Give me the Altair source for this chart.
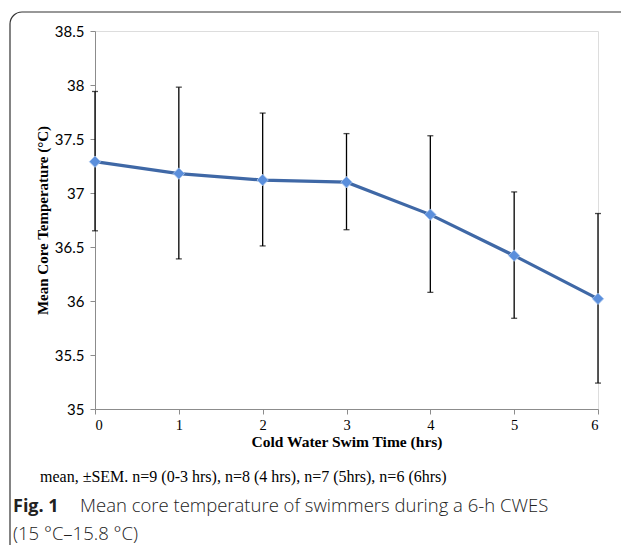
import altair as alt
import pandas as pd

hours = [0, 1, 2, 3, 4, 5, 6]
mean_temp = [37.29, 37.18, 37.12, 37.10, 36.80, 36.42, 36.02]
err_low = [36.65, 36.39, 36.51, 36.66, 36.08, 35.84, 35.24]
err_high = [37.94, 37.98, 37.74, 37.55, 37.53, 37.01, 36.81]
y_ticks = [35, 35.5, 36, 36.5, 37, 37.5, 38, 38.5]

df = pd.DataFrame({"t": hours, "m": mean_temp, "lo": err_low, "hi": err_high})

note_text = ["mean, \u00b1SEM. n=9 (0-3 hrs), n=8 (4 hrs), n=7 (5hrs), n=6 (6hrs)"]
fig_label = ["Fig. 1"]
caption_1 = ["Mean core temperature of swimmers during a 6-h CWES"]
caption_2 = ["(15 \u00b0C\u201315.8 \u00b0C)"]

xs = alt.Scale(domain=[0, 6], nice=False)
ys = alt.Scale(domain=[35, 38.5], nice=False, zero=False)

x_enc = alt.X("t:Q", scale=xs, axis=alt.Axis(
    title="Cold Water Swim Time (hrs)", values=hours, format="d", grid=False,
    domainColor="#8c8c8c", tickColor="#8c8c8c", tickSize=5, labelPadding=4,
    labelFont="Liberation Serif", labelFontSize=14.5, labelColor="#000",
    titleFont="Liberation Serif", titleFontWeight="bold", titleFontSize=15.5,
    titleColor="#000", titleY=32, titleBaseline="middle"))
y_enc = alt.Y("m:Q", scale=ys, axis=alt.Axis(
    title="Mean Core Temperature (\u00b0C)", values=y_ticks, format="~g",
    grid=False, domainColor="#8c8c8c", tickColor="#8c8c8c", tickSize=5, labelPadding=6,
    labelFont="Lato", labelFontSize=15, labelColor="#000",
    titleFont="Liberation Serif", titleFontWeight="bold", titleFontSize=15,
    titleColor="#000", titleX=-53, titleBaseline="middle"))

base = alt.Chart(df)

rules = base.mark_rule(color="#000", strokeWidth=1.3).encode(
    x=alt.X("t:Q", scale=xs), y=alt.Y("lo:Q", scale=ys), y2="hi:Q")
cap_lo = base.mark_tick(color="#000", thickness=1.3, size=6, orient="horizontal").encode(
    x=alt.X("t:Q", scale=xs), y=alt.Y("lo:Q", scale=ys))
cap_hi = base.mark_tick(color="#000", thickness=1.3, size=6, orient="horizontal").encode(
    x=alt.X("t:Q", scale=xs), y=alt.Y("hi:Q", scale=ys))
line = base.mark_line(color="#3f68a6", strokeWidth=3.2).encode(x=x_enc, y=y_enc)
pts = base.mark_point(shape="diamond", filled=True, size=130, color="#5b8fdc",
                      stroke="#a9c6ef", strokeWidth=0.8, opacity=1).encode(
    x=alt.X("t:Q", scale=xs), y=alt.Y("m:Q", scale=ys))

border = alt.Chart(pd.DataFrame({"a": [0]})).mark_rect(
    fill=None, stroke="#333", strokeWidth=1.2, cornerRadius=12).encode(
    x=alt.value(-85), x2=alt.value(540), y=alt.value(-19), y2=alt.value(545))

note = alt.Chart(pd.DataFrame({"s": note_text})).mark_text(
    align="left", baseline="alphabetic", font="Liberation Serif", fontSize=16, color="#000").encode(
    text="s:N", x=alt.value(-55), y=alt.value(451))
fig = alt.Chart(pd.DataFrame({"s": fig_label})).mark_text(
    align="left", baseline="alphabetic", font="Open Sans", fontWeight="bold", fontSize=18, color="#222").encode(
    text="s:N", x=alt.value(-82), y=alt.value(481))
cap1 = alt.Chart(pd.DataFrame({"s": caption_1})).mark_text(
    align="left", baseline="alphabetic", font="Open Sans", fontWeight=300, fontSize=18.5, color="#222").encode(
    text="s:N", x=alt.value(-15), y=alt.value(481))
cap2 = alt.Chart(pd.DataFrame({"s": caption_2})).mark_text(
    align="left", baseline="alphabetic", font="Open Sans", fontWeight=300, fontSize=18.5, color="#222").encode(
    text="s:N", x=alt.value(-82), y=alt.value(509))

chart = alt.layer(border, rules, cap_lo, cap_hi, line, pts, note, fig, cap1, cap2).properties(
    width=503, height=378,
    autosize=alt.AutoSizeParams(type="none"),
    padding={"left": 87, "top": 23, "right": 23, "bottom": 136},
).configure_view(stroke=None).configure(background="white")

chart.save("out.html", embed_options={"renderer": "svg", "actions": False})
